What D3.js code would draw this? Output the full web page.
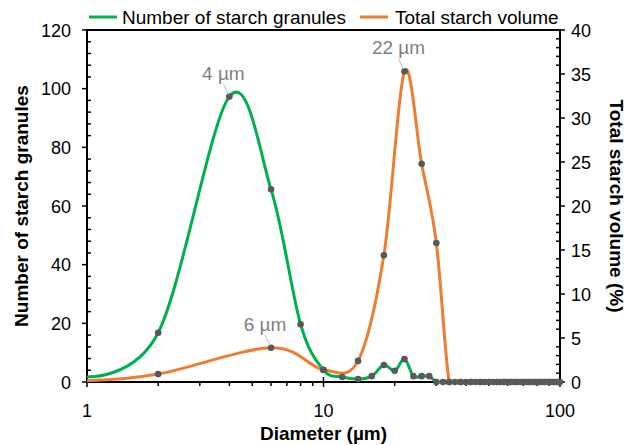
<!DOCTYPE html>
<html><head><meta charset="utf-8">
<script src="https://cdn.jsdelivr.net/npm/d3@7"></script>
<style>body{margin:0;background:#fff}svg{display:block;font-family:"Liberation Sans",Arial,sans-serif}</style>
</head><body><svg id="c" width="630" height="445"></svg>
<script>
// ---- data ----
const granuleDiam = [1,2,4,6,8,10,12,14,16,18,20,22,24,26,28,30,32,34,36,38,40,42,44,46,48,50,52,54,56,58,60,62,64,66,68,70,72,74,76,78,80,82,84,86,88,90,92,94,96,98,100];
const granuleCount = [1.8,16.8,97.3,65.7,19.7,4.1,1.7,1.0,2.0,5.8,3.8,7.8,2.0,2.0,2.0,0,0,0,0,0,0,0,0,0,0,0,0,0,0,0,0,0,0,0,0,0,0,0,0,0,0,0,0,0,0,0,0,0,0,0,0];
const volumeDiam = [1,2,6,10,14,18,22,26,30,34,38,42,46,50,54,58,62,66,70,74,78,82,86,90,94,98];
const volumePct = [0.15,0.9,3.9,1.4,2.4,14.4,35.3,24.8,15.8,0,0,0,0,0,0,0,0,0,0,0,0,0,0,0,0,0];
const leftTicks = [0,20,40,60,80,100,120];
const rightTicks = [0,5,10,15,20,25,30,35,40];
const xTicks = [1,10,100];
const seriesNames = ["Number of starch granules","Total starch volume"];
const peakLabels = [
  {series:0, x:4, text:"4 µm"},
  {series:1, x:6, text:"6 µm"},
  {series:1, x:22, text:"22 µm"}
];

// ---- layout ----
const L=87,R=560,T=30,B=382;
const green="#00b050", orange="#ed7d31", markerC="#595959", gray="#7f7f7f";
const svg=d3.select("#c");
const x=d3.scaleLog().domain([1,100]).range([L,R]);
const yL=d3.scaleLinear().domain([0,120]).range([B,T]);
const yR=d3.scaleLinear().domain([0,40]).range([B,T]);

const gData=granuleDiam.map((d,i)=>({x:d,y:granuleCount[i]}));
const oData=volumeDiam.map((d,i)=>({x:d,y:volumePct[i]}));

svg.append("clipPath").attr("id","clip").append("rect")
  .attr("x",L).attr("y",0).attr("width",R-L).attr("height",B+1.5);

// axes
const minorL=d3.range(0,121,4).filter(v=>v%20!==0);
const minorR=d3.range(0,41,1).filter(v=>v%5!==0);
const minorX=[2,3,4,5,6,7,8,9,20,30,40,50,60,70,80,90];
const ax=svg.append("g").attr("stroke","#000").attr("stroke-width",1.5);
ax.append("rect").attr("x",L).attr("y",T).attr("width",R-L).attr("height",B-T).attr("fill","none").attr("stroke-width",2);
ax.selectAll(".ml").data(minorL).join("line").attr("x1",L).attr("x2",L+4).attr("y1",d=>yL(d)).attr("y2",d=>yL(d));
ax.selectAll(".Ml").data(leftTicks).join("line").attr("x1",L-5).attr("x2",L).attr("y1",d=>yL(d)).attr("y2",d=>yL(d));
ax.selectAll(".mr").data(minorR).join("line").attr("x1",R-4).attr("x2",R).attr("y1",d=>yR(d)).attr("y2",d=>yR(d));
ax.selectAll(".Mr").data(rightTicks).join("line").attr("x1",R).attr("x2",R+5).attr("y1",d=>yR(d)).attr("y2",d=>yR(d));
ax.selectAll(".mx").data(minorX).join("line").attr("x1",d=>x(d)).attr("x2",d=>x(d)).attr("y1",B).attr("y2",B+4);
ax.selectAll(".Mx").data(xTicks).join("line").attr("x1",d=>x(d)).attr("x2",d=>x(d)).attr("y1",B-5).attr("y2",B+5);

const tf=svg.append("g").attr("font-size",18).attr("fill","#000");
tf.selectAll(".tl").data(leftTicks).join("text").attr("x",L-16).attr("y",d=>yL(d)+6.5).attr("text-anchor","end").text(d=>d);
tf.selectAll(".tr").data(rightTicks).join("text").attr("x",R+11).attr("y",d=>yR(d)+6.5).text(d=>d);
tf.selectAll(".tx").data(xTicks).join("text").attr("x",d=>x(d)).attr("y",B+35).attr("text-anchor","middle").text(d=>d);

// axis titles
const tt=svg.append("g").attr("font-size",19).attr("font-weight","bold").attr("fill","#000");
tt.append("text").attr("x",(L+R)/2).attr("y",440).attr("text-anchor","middle").text("Diameter  (µm)");
tt.append("text").attr("transform",`translate(28,${(T+B)/2}) rotate(-90)`).attr("text-anchor","middle").text("Number of starch granules");
tt.append("text").attr("transform",`translate(610,${(T+B)/2}) rotate(90)`).attr("text-anchor","middle").text("Total starch volume (%)");

// lines
const curve=d3.curveCardinal.tension(0);
const plot=svg.append("g").attr("clip-path","url(#clip)");
plot.append("path").datum(gData).attr("fill","none").attr("stroke",green).attr("stroke-width",3)
  .attr("d",d3.line().x(d=>x(d.x)).y(d=>yL(d.y)).curve(curve));
plot.append("path").datum(oData).attr("fill","none").attr("stroke",orange).attr("stroke-width",3)
  .attr("d",d3.line().x(d=>x(d.x)).y(d=>yR(d.y)).curve(curve));
svg.append("g").selectAll("circle").data(gData.filter(d=>d.x>1)).join("circle")
  .attr("cx",d=>x(d.x)).attr("cy",d=>yL(d.y)).attr("r",3.3).attr("fill",markerC);
svg.append("g").selectAll("circle").data(oData.filter(d=>d.x>1)).join("circle")
  .attr("cx",d=>x(d.x)).attr("cy",d=>yR(d.y)).attr("r",3.3).attr("fill",markerC);

// peak annotations
const lab=svg.append("g").attr("font-size",19).attr("fill",gray);
peakLabels.forEach(p=>{
  const px=x(p.x);
  const py=p.series===0?yL(granuleCount[granuleDiam.indexOf(p.x)]):yR(volumePct[volumeDiam.indexOf(p.x)]);
  lab.append("line").attr("x1",px-6).attr("y1",py-13).attr("x2",px-1).attr("y2",py-2).attr("stroke","#bfbfbf").attr("stroke-width",1);
  lab.append("text").attr("x",px-6).attr("y",py-17).attr("text-anchor","middle").text(p.text);
});

// legend
const lg=svg.append("g").attr("font-size",19).attr("fill","#000");
[[89,green,122],[360,orange,395]].forEach((l,i)=>{
  lg.append("line").attr("x1",l[0]).attr("x2",l[0]+28).attr("y1",17).attr("y2",17).attr("stroke",l[1]).attr("stroke-width",3);
  lg.append("text").attr("x",l[2]).attr("y",23.5).text(seriesNames[i]);
});
</script></body></html>
